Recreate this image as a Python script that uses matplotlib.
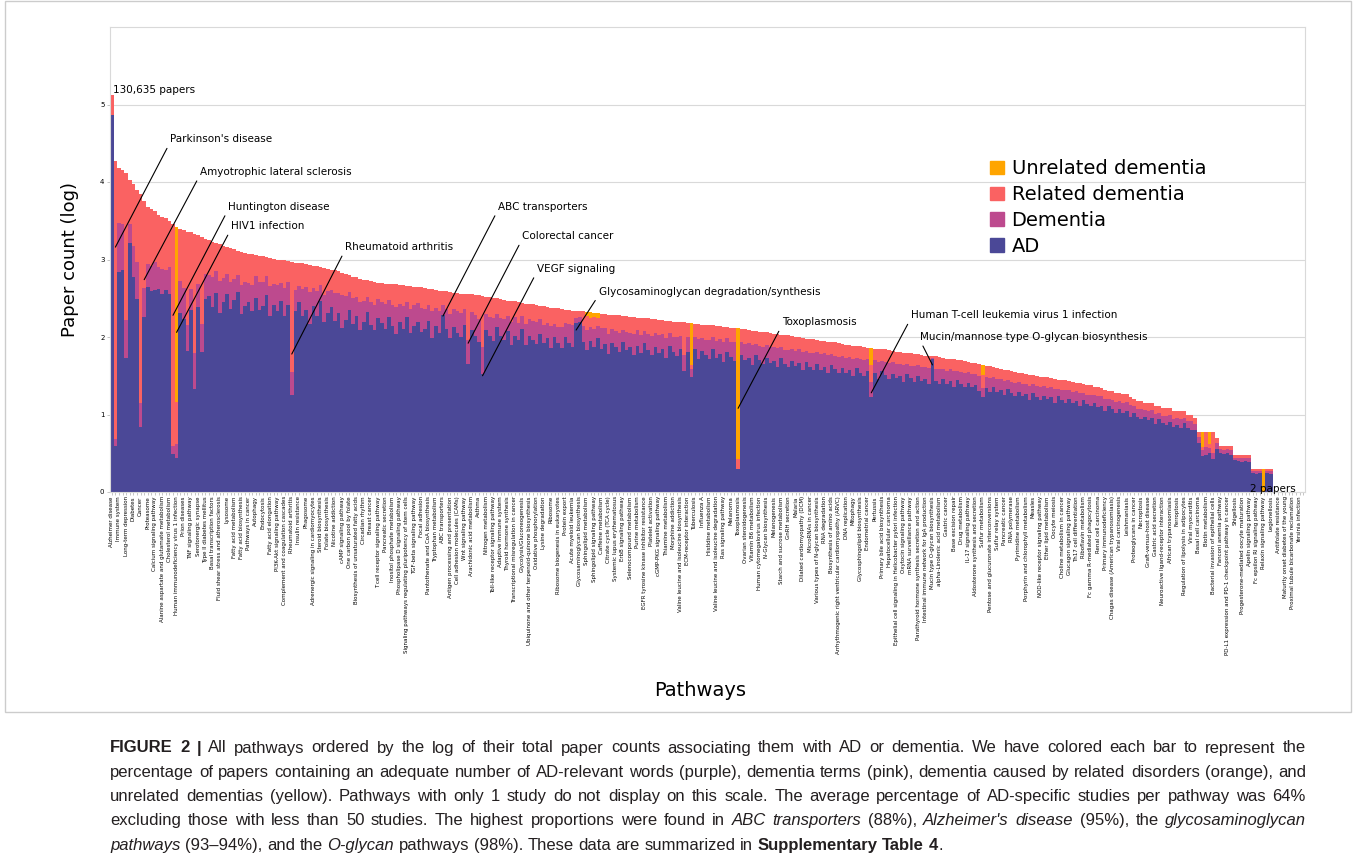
import matplotlib.pyplot as plt
import numpy as np
from matplotlib.patches import Patch, Rectangle

# every second pathway carries a tick label (as in the original)
labels = [
    "Alzheimer disease", "Immune system", "Long-term depression", "Diabetes", "Cancer",
    "Proteasome", "Calcium signaling pathway", "Alanine aspartate and glutamate metabolism",
    "Cholesterol metabolism", "Human immunodeficiency virus 1 infection", "Prion diseases",
    "TNF signaling pathway", "Serotonergic synapse", "Type II diabetes mellitus",
    "Basal transcription factors", "Fluid shear stress and atherosclerosis", "Lysosome",
    "Fatty acid metabolism", "Fatty acid biosynthesis", "Pathways in cancer", "Autophagy",
    "Endocytosis", "Fatty acid elongation", "PI3K-Akt signaling pathway",
    "Complement and coagulation cascades", "Rheumatoid arthritis", "Insulin resistance",
    "Phagosome", "Adrenergic signaling in cardiomyocytes", "Steroid biosynthesis",
    "Folate biosynthesis", "Nicotine addiction", "cAMP signaling pathway",
    "One carbon pool by folate", "Biosynthesis of unsaturated fatty acids", "Circadian rhythm",
    "Breast cancer", "T cell receptor signaling pathway", "Pancreatic secretion",
    "Inositol phosphate metabolism", "Phospholipase D signaling pathway",
    "Signaling pathways regulating pluripotency of stem cells", "TGF-beta signaling pathway",
    "Focal adhesion", "Pantothenate and CoA biosynthesis", "Tryptophan metabolism",
    "ABC transporters", "Antigen processing and presentation", "Cell adhesion molecules (CAMs)",
    "Wnt signaling pathway", "Arachidonic acid metabolism", "Asthma", "Nitrogen metabolism",
    "Toll-like receptor signaling pathway", "Adaptive immune system", "Thyroid hormone synthesis",
    "Transcriptional misregulation in cancer", "Glycolysis/Gluconeogenesis",
    "Ubiquinone and other terpenoid-quinone biosynthesis", "Oxidative phosphorylation",
    "Lysine degradation", "Ribosome", "Ribosome biogenesis in eukaryotes", "Protein export",
    "Acute myeloid leukemia", "Glycosaminoglycan biosynthesis", "Sphingolipid metabolism",
    "Sphingolipid signaling pathway", "Caffeine metabolism", "Citrate cycle (TCA cycle)",
    "Systemic lupus erythematosus", "ErbB signaling pathway", "Selenocompound metabolism",
    "Purine metabolism", "EGFR tyrosine kinase inhibitor resistance", "Platelet activation",
    "cGMP-PKG signaling pathway", "Thiamine metabolism", "Morphine addiction",
    "Valine leucine and isoleucine biosynthesis", "ECM-receptor interaction", "Tuberculosis",
    "Influenza A", "Histidine metabolism", "Valine leucine and isoleucine degradation",
    "Ras signaling pathway", "Melanoma", "Toxoplasmosis", "Ovarian steroidogenesis",
    "Vitamin B6 metabolism", "Human cytomegalovirus infection", "N-Glycan biosynthesis",
    "Melanogenesis", "Starch and sucrose metabolism", "GnRH secretion", "Malaria",
    "Dilated cardiomyopathy (DCM)", "MicroRNAs in cancer", "Various types of N-glycan biosynthesis",
    "RNA degradation", "Biosynthesis of amino acids",
    "Arrhythmogenic right ventricular cardiomyopathy (ARVC)", "DNA replication", "Mitophagy",
    "Glycosphingolipid biosynthesis", "Endometrial cancer", "Pertussis",
    "Primary bile acid biosynthesis", "Hepatocellular carcinoma",
    "Epithelial cell signaling in Helicobacter pylori infection", "Oxytocin signaling pathway",
    "mRNA surveillance pathway", "Parathyroid hormone synthesis secretion and action",
    "Intestinal immune network for IgA production", "Mucin type O-glycan biosynthesis",
    "alpha-Linolenic acid metabolism", "Gastric cancer", "Base excision repair", "Drug metabolism",
    "IL-17 signaling pathway", "Aldosterone synthesis and secretion", "Sulfur metabolism",
    "Pentose and glucuronate interconversions", "Sulfur relay system", "Pancreatic cancer",
    "RNA polymerase", "Pyrimidine metabolism", "Porphyrin and chlorophyll metabolism", "Measles",
    "NOD-like receptor signaling pathway", "Ether lipid metabolism", "Oocyte meiosis",
    "Choline metabolism in cancer", "Glucagon signaling pathway", "Th17 cell differentiation",
    "Riboflavin metabolism", "Fc gamma R-mediated phagocytosis", "Renal cell carcinoma",
    "Primary immunodeficiency", "Chagas disease (American trypanosomiasis)", "Viral carcinogenesis",
    "Leishmaniasis", "Proteoglycans in cancer", "Necroptosis", "Graft-versus-host disease",
    "Gastric acid secretion", "Neuroactive ligand-receptor interaction", "African trypanosomiasis",
    "Ferroptosis", "Regulation of lipolysis in adipocytes", "Viral myocarditis",
    "Basal cell carcinoma", "Biotin metabolism", "Bacterial invasion of epithelial cells",
    "Fanconi anemia pathway", "PD-L1 expression and PD-1 checkpoint pathway in cancer",
    "Shigellosis", "Progesterone-mediated oocyte maturation", "Apelin signaling pathway",
    "Fc epsilon RI signaling pathway", "Relaxin signaling pathway", "Legionellosis",
    "Antifolate resistance", "Maturity onset diabetes of the young",
    "Proximal tubule bicarbonate reclamation", "Yersinia infection",
]

# log10 of total paper count per pathway (bar tops)
total_log = [
    5.12, 4.27, 4.18, 4.16, 4.11, 4.02, 3.97, 3.90, 3.84, 3.76, 3.68, 3.65, 3.62, 3.58, 3.55, 3.53, 3.50, 3.46, 3.42, 3.40,
    3.38, 3.36, 3.35, 3.33, 3.31, 3.29, 3.27, 3.25, 3.23, 3.21, 3.20, 3.18, 3.16, 3.15, 3.13, 3.11, 3.10, 3.08, 3.07, 3.07,
    3.06, 3.05, 3.04, 3.03, 3.02, 3.01, 3.00, 3.00, 2.99, 2.98, 2.97, 2.96, 2.95, 2.95, 2.94, 2.93, 2.92, 2.91, 2.90, 2.89,
    2.88, 2.87, 2.86, 2.85, 2.83, 2.81, 2.80, 2.78, 2.77, 2.75, 2.74, 2.73, 2.72, 2.71, 2.70, 2.70, 2.69, 2.69, 2.68, 2.68,
    2.67, 2.67, 2.66, 2.66, 2.65, 2.65, 2.64, 2.63, 2.62, 2.62, 2.61, 2.60, 2.59, 2.59, 2.58, 2.57, 2.57, 2.56, 2.56, 2.55,
    2.55, 2.54, 2.54, 2.53, 2.52, 2.51, 2.50, 2.50, 2.49, 2.48, 2.47, 2.46, 2.46, 2.45, 2.44, 2.43, 2.42, 2.42, 2.41, 2.40,
    2.40, 2.39, 2.38, 2.38, 2.37, 2.36, 2.35, 2.35, 2.34, 2.34, 2.33, 2.33, 2.32, 2.32, 2.31, 2.31, 2.30, 2.30, 2.29, 2.29,
    2.28, 2.28, 2.27, 2.27, 2.26, 2.26, 2.25, 2.25, 2.24, 2.24, 2.23, 2.23, 2.22, 2.22, 2.21, 2.21, 2.20, 2.20, 2.19, 2.19,
    2.18, 2.18, 2.17, 2.17, 2.16, 2.16, 2.15, 2.15, 2.14, 2.14, 2.13, 2.13, 2.12, 2.12, 2.11, 2.10, 2.10, 2.09, 2.08, 2.08,
    2.07, 2.06, 2.06, 2.05, 2.04, 2.04, 2.03, 2.02, 2.02, 2.01, 2.00, 2.00, 1.99, 1.98, 1.97, 1.97, 1.96, 1.95, 1.95, 1.94,
    1.93, 1.93, 1.92, 1.91, 1.90, 1.90, 1.89, 1.88, 1.88, 1.87, 1.86, 1.86, 1.85, 1.85, 1.84, 1.84, 1.83, 1.82, 1.81, 1.80,
    1.80, 1.79, 1.79, 1.78, 1.78, 1.77, 1.76, 1.76, 1.75, 1.75, 1.74, 1.73, 1.72, 1.72, 1.71, 1.70, 1.70, 1.69, 1.68, 1.67,
    1.66, 1.65, 1.64, 1.63, 1.62, 1.61, 1.60, 1.59, 1.58, 1.57, 1.56, 1.55, 1.54, 1.53, 1.52, 1.51, 1.51, 1.50, 1.49, 1.48,
    1.48, 1.47, 1.46, 1.45, 1.45, 1.44, 1.43, 1.42, 1.41, 1.40, 1.39, 1.38, 1.38, 1.36, 1.36, 1.34, 1.32, 1.30, 1.30, 1.28,
    1.28, 1.26, 1.26, 1.23, 1.20, 1.18, 1.18, 1.15, 1.15, 1.15, 1.11, 1.11, 1.08, 1.08, 1.08, 1.04, 1.04, 1.04, 1.04, 1.00,
    1.00, 0.95, 0.78, 0.78, 0.78, 0.78, 0.78, 0.70, 0.60, 0.60, 0.60, 0.60, 0.48, 0.48, 0.48, 0.48, 0.48, 0.30, 0.30, 0.30,
    0.30, 0.30, 0.30, 0, 0, 0, 0, 0, 0, 0, 0, 0,
]

# share of each bar (percent): AD, dementia, unrelated dementia; related dementia is the rest
ad_pct = [
    95, 14, 68, 69, 42, 80, 70, 64, 22, 60, 72, 71, 72, 73, 72, 74, 73, 14, 13, 68,
    66, 54, 70, 40, 72, 55, 76, 78, 74, 80, 72, 77, 81, 75, 79, 83, 74, 78, 80, 76,
    82, 77, 79, 84, 75, 80, 78, 82, 76, 81, 42, 79, 83, 77, 80, 74, 82, 78, 85, 76,
    80, 83, 77, 81, 75, 79, 84, 78, 82, 76, 80, 85, 79, 77, 83, 81, 78, 84, 80, 76,
    82, 79, 85, 77, 81, 83, 78, 80, 84, 76, 82, 79, 88, 81, 77, 83, 80, 78, 84, 65,
    82, 79, 76, 60, 83, 80, 78, 85, 81, 79, 84, 77, 82, 80, 86, 78, 83, 81, 79, 85,
    80, 83, 78, 84, 81, 79, 85, 82, 80, 93, 94, 83, 79, 84, 81, 86, 80, 83, 78, 84,
    82, 79, 85, 81, 83, 78, 84, 80, 86, 82, 79, 84, 81, 83, 78, 85, 82, 80, 84, 71,
    83, 68, 85, 79, 84, 82, 80, 86, 81, 83, 79, 85, 82, 80, 14, 84, 81, 83, 79, 85,
    82, 80, 84, 81, 83, 79, 85, 82, 80, 84, 81, 83, 79, 85, 82, 80, 84, 81, 83, 79,
    85, 82, 80, 84, 81, 83, 79, 85, 82, 80, 84, 66, 83, 79, 85, 82, 80, 84, 81, 83,
    79, 85, 82, 80, 84, 81, 83, 79, 98, 82, 80, 84, 81, 83, 79, 85, 82, 80, 84, 81,
    83, 79, 75, 82, 80, 84, 81, 83, 79, 85, 82, 80, 84, 81, 83, 79, 85, 82, 80, 84,
    81, 83, 79, 85, 82, 80, 84, 81, 83, 79, 85, 82, 80, 84, 81, 83, 79, 85, 82, 80,
    84, 81, 83, 79, 85, 82, 80, 84, 81, 83, 79, 85, 82, 80, 84, 81, 83, 79, 85, 82,
    80, 84, 81, 60, 62, 65, 55, 80, 84, 81, 83, 79, 85, 82, 80, 84, 81, 83, 79, 82,
    0, 80, 78, 0, 0, 0, 0, 0, 0, 0, 0, 0,
]
dem_pct = [
    0, 2, 15, 14, 12, 6, 10, 12, 8, 10, 8, 9, 10, 8, 9, 7, 10, 3, 5, 12,
    12, 10, 8, 14, 9, 11, 10, 8, 12, 9, 13, 10, 8, 11, 9, 7, 12, 10, 8, 11,
    9, 12, 10, 8, 13, 9, 11, 8, 12, 10, 10, 9, 7, 12, 10, 14, 8, 11, 7, 12,
    10, 8, 13, 9, 15, 11, 8, 12, 9, 13, 10, 7, 11, 12, 9, 10, 12, 8, 10, 13,
    9, 11, 7, 12, 10, 9, 12, 10, 8, 13, 9, 11, 5, 10, 12, 9, 11, 12, 8, 12,
    9, 11, 12, 14, 8, 10, 12, 7, 9, 11, 8, 12, 10, 9, 7, 11, 9, 10, 12, 8,
    10, 8, 12, 7, 9, 11, 8, 10, 12, 3, 3, 9, 11, 8, 10, 7, 12, 9, 11, 8,
    9, 11, 7, 10, 8, 12, 9, 10, 7, 9, 11, 8, 10, 9, 12, 8, 9, 11, 8, 10,
    9, 5, 7, 12, 8, 9, 11, 7, 10, 9, 12, 8, 9, 11, 0, 8, 10, 9, 12, 7,
    9, 11, 8, 10, 9, 12, 7, 9, 11, 8, 10, 9, 12, 7, 9, 11, 8, 10, 9, 12,
    7, 9, 11, 8, 10, 9, 12, 7, 9, 11, 8, 10, 9, 12, 7, 9, 11, 8, 10, 9,
    12, 7, 9, 11, 8, 10, 9, 12, 1, 9, 11, 8, 10, 9, 12, 7, 9, 11, 8, 10,
    9, 12, 7, 9, 11, 8, 10, 9, 12, 7, 9, 11, 8, 10, 9, 12, 7, 9, 11, 8,
    10, 9, 12, 7, 9, 11, 8, 10, 9, 12, 7, 9, 11, 8, 10, 9, 12, 7, 9, 11,
    8, 10, 9, 12, 7, 9, 11, 8, 10, 9, 12, 7, 9, 11, 8, 10, 9, 12, 7, 9,
    11, 8, 10, 10, 12, 7, 9, 11, 8, 10, 9, 12, 7, 9, 11, 8, 10, 9, 12, 8,
    0, 10, 12, 0, 0, 0, 0, 0, 0, 0, 0, 0,
]
unrel_pct = [
    0, 0, 0, 0, 0, 0, 0, 0, 0, 0, 0, 0, 0, 0, 0, 0, 0, 0, 66, 0,
    0, 0, 0, 0, 0, 0, 0, 0, 0, 0, 0, 0, 0, 0, 0, 0, 0, 0, 0, 0,
    0, 0, 0, 0, 0, 0, 0, 0, 0, 0, 0, 0, 0, 0, 0, 0, 0, 0, 0, 0,
    0, 0, 0, 0, 0, 0, 0, 0, 0, 0, 0, 0, 0, 0, 0, 0, 0, 0, 0, 0,
    0, 0, 0, 0, 0, 0, 0, 0, 0, 0, 0, 0, 0, 0, 0, 0, 0, 0, 0, 0,
    0, 0, 0, 0, 0, 0, 0, 0, 0, 0, 0, 0, 0, 0, 0, 0, 0, 0, 0, 0,
    0, 0, 0, 0, 0, 0, 0, 0, 0, 0, 0, 0, 2, 3, 2, 3, 0, 0, 0, 0,
    0, 0, 0, 0, 0, 0, 0, 0, 0, 0, 0, 0, 0, 0, 0, 0, 0, 0, 0, 0,
    0, 25, 0, 0, 0, 0, 0, 0, 0, 0, 0, 0, 0, 0, 80, 0, 0, 0, 0, 0,
    0, 0, 0, 0, 0, 0, 0, 0, 0, 0, 0, 0, 0, 0, 0, 0, 0, 0, 0, 0,
    0, 0, 0, 0, 0, 0, 0, 0, 0, 0, 0, 12, 0, 0, 0, 0, 0, 0, 0, 0,
    0, 0, 0, 0, 0, 0, 0, 0, 0, 0, 0, 0, 0, 0, 0, 0, 0, 0, 0, 0,
    0, 0, 8, 0, 0, 0, 0, 0, 0, 0, 0, 0, 0, 0, 0, 0, 0, 0, 0, 0,
    0, 0, 0, 0, 0, 0, 0, 0, 0, 0, 0, 0, 0, 0, 0, 0, 0, 0, 0, 0,
    0, 0, 0, 0, 0, 0, 0, 0, 0, 0, 0, 0, 0, 0, 0, 0, 0, 0, 0, 0,
    0, 0, 0, 25, 0, 20, 0, 0, 0, 0, 0, 0, 0, 0, 0, 0, 0, 0, 0, 0,
    100, 0, 0, 0, 0, 0, 0, 0, 0, 0, 0, 0,
]

N = len(total_log)
x = np.arange(N)
tot = np.array(total_log, dtype=float)
ad = np.array(ad_pct) / 100.0
dem = np.array(dem_pct) / 100.0
un = np.array(unrel_pct) / 100.0
rel = np.clip(1 - ad - dem - un, 0, 1)

c_ad = "#4b4897"
c_dem = "#bd4a8e"
c_rel = "#fa6262"
c_un = "#ffa500"

fig = plt.figure(figsize=(13.57, 8.68), dpi=100)
W, H = 1357.0, 868.0
ax = fig.add_axes([110 / W, 1 - 492 / H, 1195 / W, 465 / H])

bottom = np.zeros(N)
for frac, col in [(ad, c_ad), (dem, c_dem), (rel, c_rel), (un, c_un)]:
    h = tot * frac
    ax.bar(x, h, bottom=bottom, width=1.0, color=col, linewidth=0, zorder=2)
    bottom = bottom + h

ax.set_xlim(-0.5, N - 0.5)
ax.set_ylim(0, 6)
ax.set_yticks([0, 1, 2, 3, 4, 5])
ax.set_yticklabels(["0", "1", "2", "3", "4", "5"], fontsize=5)
ax.grid(axis="y", color="#d9d9d9", linewidth=0.8, zorder=0)
for s in ax.spines.values():
    s.set_color("#d9d9d9")
    s.set_linewidth(0.8)

ticklab = [""] * N
for k, name in enumerate(labels):
    ticklab[2 * k] = name
ax.set_xticks(x)
ax.set_xticklabels(ticklab, rotation=90, fontsize=4)
ax.tick_params(axis="x", length=2, width=0.4, color="#999999", pad=1)
ax.tick_params(axis="y", length=2, width=0.4, color="#999999", pad=2)

ax.set_ylabel("Paper count (log)", fontsize=13, labelpad=15)
fig.text(700 / W, 1 - 690 / H, "Pathways", fontsize=14, ha="center", va="center")

# annotations: (text, text x, text y, bar index, y on bar)
notes = [
    ("Parkinson's disease", 16.2, 4.55, 1, 3.16),
    ("Amyotrophic lateral sclerosis", 24.5, 4.13, 9, 2.74),
    ("Huntington disease", 32.3, 3.68, 17, 2.28),
    ("HIV1 infection", 33.1, 3.43, 18, 2.06),
    ("Rheumatoid arthritis", 64.8, 3.16, 50, 1.78),
    ("ABC transporters", 107.3, 3.68, 92, 2.27),
    ("Colorectal cancer", 114.0, 3.30, 99, 1.92),
    ("VEGF signaling", 118.1, 2.88, 103, 1.50),
    ("Glycosaminoglycan degradation/synthesis", 135.3, 2.58, 129, 2.09),
    ("Toxoplasmosis", 186.2, 2.19, 174, 1.08),
    ("Human T-cell leukemia virus 1 infection", 222.0, 2.28, 211, 1.28),
    ("Mucin/mannose type O-glycan biosynthesis", 224.5, 2.00, 228, 1.64),
]
for txt, tx, ty, bi, by in notes:
    ax.annotate(txt, xy=(bi, by), xytext=(tx, ty), fontsize=7.5, ha="left", va="center",
                arrowprops=dict(arrowstyle="-", color="black", lw=0.8,
                                relpos=(0, 0.2), shrinkA=1, shrinkB=0), zorder=5)

ax.text(0.3, 5.19, "130,635 papers", fontsize=7.5, ha="left", va="center")
ax.text(316.2, 0.04, "2 papers", fontsize=7.5, ha="left", va="center")

handles = [Patch(color=c_un), Patch(color=c_rel), Patch(color=c_dem), Patch(color=c_ad)]
ax.legend(handles, ["Unrelated dementia", "Related dementia", "Dementia", "AD"],
          loc="upper left", bbox_to_anchor=(0.730, 0.732), frameon=False, fontsize=14,
          handlelength=0.7, handleheight=0.7, handletextpad=0.4, labelspacing=0.35,
          borderaxespad=0)

# frame around the chart panel
fig.add_artist(Rectangle((5 / W, 1 - 712 / H), 1346 / W, 711 / H, transform=fig.transFigure,
                         fill=False, edgecolor="#cccccc", linewidth=1))

# caption, justified between x=110 and x=1306 px
renderer = fig.canvas.get_renderer()
cap_fs = 12.0
cap_lines = [
    [("FIGURE 2 |", "bold", "normal"),
     ("All pathways ordered by the log of their total paper counts associating them with AD or dementia. We have colored each bar to represent the", "normal", "normal")],
    [("percentage of papers containing an adequate number of AD-relevant words (purple), dementia terms (pink), dementia caused by related disorders (orange), and", "normal", "normal")],
    [("unrelated dementias (yellow). Pathways with only 1 study do not display on this scale. The average percentage of AD-specific studies per pathway was 64%", "normal", "normal")],
    [("excluding those with less than 50 studies. The highest proportions were found in", "normal", "normal"),
     ("ABC transporters", "normal", "italic"), ("(88%),", "normal", "normal"),
     ("Alzheimer's disease", "normal", "italic"), ("(95%), the", "normal", "normal"),
     ("glycosaminoglycan", "normal", "italic")],
    [("pathways", "normal", "italic"), ("(93–94%), and the", "normal", "normal"),
     ("O-glycan", "normal", "italic"),
     ("pathways (98%). These data are summarized in", "normal", "normal"),
     ("Supplementary Table 4", "bold", "normal"), (".", "normal", "normal")],
]


def word_w(s, wt, st):
    t = fig.text(0, 0, s, fontsize=cap_fs, fontweight=wt, fontstyle=st, family="Liberation Sans")
    w = t.get_window_extent(renderer).width
    t.remove()
    return w


space_w = word_w("x x", "normal", "normal") - word_w("xx", "normal", "normal")
x_left, x_right = 110.0, 1306.0
y_px = 748
for li, line in enumerate(cap_lines):
    words = []
    for pi, (txt, wt, st) in enumerate(line):
        parts = txt.split(" ")
        for wi, wd in enumerate(parts):
            glue = not (pi > 0 and wi == 0 and txt[0] in ".")
            words.append((wd, wt, st, glue if (wi > 0 or pi > 0) else True))
    widths = [word_w(wd, wt, st) for wd, wt, st, _ in words]
    n_gaps = sum(1 for k, w in enumerate(words) if k > 0 and w[3])
    if li < len(cap_lines) - 1:
        gap = (x_right - x_left - sum(widths)) / max(n_gaps, 1)
    else:
        gap = space_w
    xx = x_left
    for k, ((wd, wt, st, glue), w) in enumerate(zip(words, widths)):
        if k > 0 and glue:
            xx += gap
        fig.text(xx / W, 1 - y_px / H, wd, fontsize=cap_fs, fontweight=wt, fontstyle=st,
                 family="Liberation Sans", color="#231f20", va="center", ha="left")
        xx += w
    y_px += 24.3

fig.savefig("out.png", dpi=100)
